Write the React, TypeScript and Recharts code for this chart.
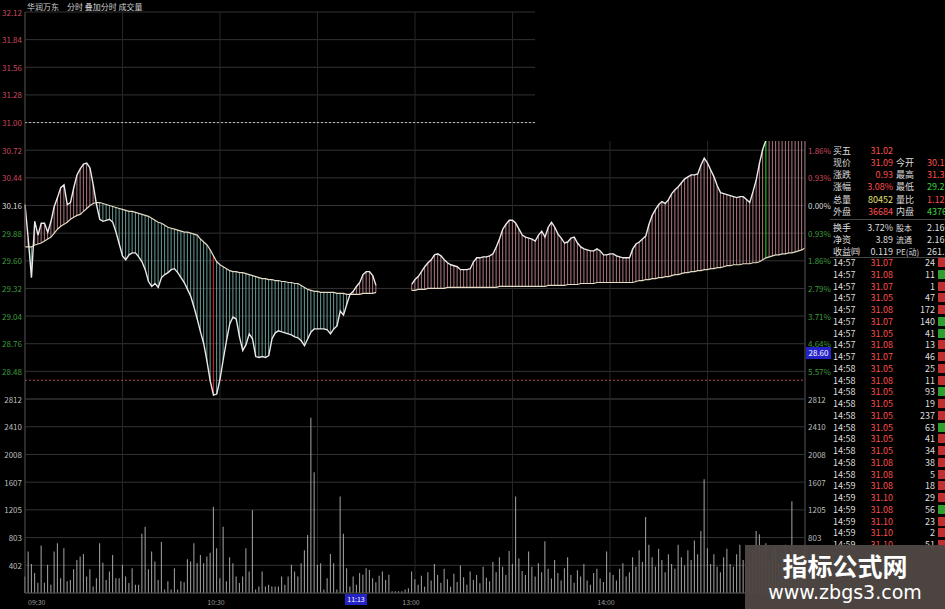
import React from 'react';
import { ComposedChart, Line, Bar, XAxis, YAxis, CartesianGrid, ReferenceLine, Cell } from 'recharts';

// 昨收
const BASE = 30.16;

// 分时价格，每分钟一个点（09:30 起，共 241 个）
const price: (number | null)[] = [
  30.17, 29.82, 29.43, 30.0, 29.86, 29.98, 29.98, 29.89, 30.0, 30.15,
  30.24, 30.34, 30.37, 30.17, 30.19, 30.34, 30.47, 30.53, 30.58, 30.59,
  30.54, 30.37, 30.17, 30.02, 30.0, 30.01, 30.02, 29.99, 29.89, 29.77,
  29.65, 29.61, 29.66, 29.68, 29.68, 29.64, 29.59, 29.51, 29.39, 29.34,
  29.37, 29.33, 29.43, 29.46, 29.48, 29.51, 29.52, 29.48, 29.43, 29.38,
  29.31, 29.24, 29.13, 29.01, 28.88, 28.76, 28.58, 28.38, 28.24, 28.25,
  28.4, 28.6, 28.79, 28.96, 29.03, 29.01, 28.83, 28.69, 28.75, 28.86,
  28.81, 28.63, 28.62, 28.63, 28.62, 28.64, 28.81, 28.87, 28.89, 28.88,
  28.87, 28.86, 28.85, 28.83, 28.82, 28.79, 28.74, 28.81, 28.88, 28.91,
  28.91, 28.91, 28.91, 28.9, 28.86, 28.91, 28.94, 29.09, 29.05, 29.16,
  29.26, 29.29, 29.34, 29.38, 29.46, 29.49, 29.49, 29.45, 29.35, null,
  null, null, null, null, null, null, null, null, null, 29.36,
  29.41, 29.44, 29.49, 29.54, 29.58, 29.61, 29.66, 29.67, 29.65, 29.61,
  29.58, 29.56, 29.55, 29.54, 29.51, 29.51, 29.51, 29.52, 29.59, 29.63,
  29.63, 29.64, 29.64, 29.65, 29.67, 29.74, 29.82, 29.92, 29.97, 30.01,
  30.01, 29.98, 29.92, 29.86, 29.84, 29.83, 29.82, 29.8, 29.86, 29.9,
  29.84, 29.94, 29.99, 29.94, 29.87, 29.83, 29.78, 29.79, 29.83, 29.84,
  29.78, 29.74, 29.72, 29.71, 29.7, 29.7, 29.72, 29.7, 29.66, 29.66,
  29.67, 29.67, 29.65, 29.64, 29.63, 29.63, 29.63, 29.72, 29.77, 29.79,
  29.82, 29.85, 29.97, 30.06, 30.12, 30.17, 30.2, 30.18, 30.22, 30.28,
  30.32, 30.35, 30.39, 30.43, 30.45, 30.47, 30.47, 30.48, 30.57, 30.64,
  30.59, 30.52, 30.45, 30.36, 30.29, 30.28, 30.27, 30.26, 30.25, 30.24,
  30.25, 30.25, 30.22, 30.19, 30.3, 30.42, 30.59, 30.73, 30.82, 30.93,
  30.98, 31.01, 31.03, 31.05, 31.05, 31.07, 31.06, 31.08, 31.08, 31.09,
  31.09,
];

// 均价线
const avgPrice: (number | null)[] = [
  29.74, 29.74, 29.74, 29.76, 29.77, 29.78, 29.8, 29.82, 29.84, 29.88,
  29.92, 29.95, 29.97, 29.99, 30.02, 30.04, 30.06, 30.07, 30.1, 30.13,
  30.16, 30.18, 30.19, 30.19, 30.18, 30.17, 30.16, 30.15, 30.14, 30.13,
  30.12, 30.11, 30.1, 30.1, 30.09, 30.08, 30.07, 30.06, 30.05, 30.03,
  30.01, 29.99, 29.98, 29.96, 29.94, 29.93, 29.92, 29.91, 29.9, 29.89,
  29.89, 29.88, 29.87, 29.86, 29.82, 29.79, 29.76, 29.71, 29.65, 29.59,
  29.56, 29.54, 29.52, 29.5, 29.49, 29.49, 29.48, 29.48, 29.47, 29.46,
  29.45, 29.44, 29.43, 29.42, 29.42, 29.41, 29.41, 29.4, 29.4, 29.39,
  29.39, 29.38, 29.38, 29.37, 29.37, 29.35, 29.33, 29.31, 29.3, 29.29,
  29.29, 29.28, 29.28, 29.28, 29.28, 29.28, 29.27, 29.27, 29.27, 29.26,
  29.26, 29.26, 29.26, 29.26, 29.27, 29.27, 29.27, 29.27, 29.28, null,
  null, null, null, null, null, null, null, null, null, 29.3,
  29.3, 29.31, 29.31, 29.31, 29.32, 29.32, 29.32, 29.32, 29.32, 29.32,
  29.33, 29.33, 29.33, 29.33, 29.33, 29.33, 29.33, 29.33, 29.33, 29.33,
  29.33, 29.33, 29.33, 29.33, 29.33, 29.33, 29.34, 29.34, 29.34, 29.34,
  29.34, 29.34, 29.34, 29.34, 29.34, 29.34, 29.34, 29.34, 29.34, 29.34,
  29.34, 29.35, 29.35, 29.35, 29.35, 29.35, 29.35, 29.36, 29.36, 29.36,
  29.36, 29.37, 29.37, 29.37, 29.37, 29.37, 29.38, 29.38, 29.38, 29.38,
  29.38, 29.38, 29.38, 29.38, 29.38, 29.38, 29.38, 29.38, 29.39, 29.4,
  29.4, 29.41, 29.41, 29.42, 29.42, 29.43, 29.43, 29.44, 29.44, 29.45,
  29.46, 29.46, 29.47, 29.48, 29.48, 29.49, 29.49, 29.5, 29.5, 29.51,
  29.51, 29.52, 29.52, 29.53, 29.53, 29.54, 29.55, 29.55, 29.56, 29.56,
  29.56, 29.57, 29.57, 29.57, 29.58, 29.58, 29.59, 29.61, 29.63, 29.64,
  29.65, 29.66, 29.66, 29.67, 29.67, 29.68, 29.68, 29.69, 29.7, 29.71,
  29.73,
];

// 成交量（手）
const volume: number[] = [
  240, 600, 420, 290, 150, 690, 150, 410, 120, 600,
  720, 215, 650, 170, 190, 345, 480, 530, 565, 240,
  345, 95, 215, 720, 440, 190, 310, 550, 215, 215,
  410, 240, 145, 360, 120, 120, 860, 960, 345, 600,
  455, 190, 740, 50, 170, 50, 360, 50, 170, 155,
  490, 455, 720, 430, 550, 430, 530, 585, 1250, 650,
  215, 960, 170, 520, 430, 240, 145, 240, 650, 310,
  1200, 50, 95, 310, 95, 120, 95, 95, 95, 240,
  120, 240, 410, 310, 240, 430, 620, 840, 2540, 1750,
  410, 430, 50, 215, 565, 430, 50, 1400, 860, 360,
  95, 240, 120, 290, 265, 360, 335, 215, 155, 250,
  310, 190, 265, 25, 25, 25, 25, 50, 70, 310,
  200, 120, 250, 90, 300, 180, 420, 260, 150, 350,
  200, 90, 280, 160, 400, 230, 120, 310, 190, 260,
  140, 380, 220, 170, 450, 300, 520, 380, 260, 610,
  420, 1400, 500, 320, 260, 600, 380, 240, 430, 300,
  750, 350, 210, 480, 290, 180, 360, 520, 260, 150,
  330, 240, 420, 180, 120, 290, 350, 210, 160, 600,
  300, 260, 180, 350, 430, 240, 300, 520, 380, 620,
  450, 1100, 700, 520, 380, 640, 480, 300, 560, 420,
  350, 700, 520, 400, 620, 480, 760, 560, 900, 1650,
  650, 420, 560, 380, 300, 520, 640, 420, 380, 560,
  700, 480, 380, 520, 620, 900, 850, 600, 720, 480,
  560, 640, 420, 520, 700, 560, 1330, 620, 480, 560,
  700,
];

// 特别标出的两根（红/绿）
const redMarks = [58];
const greenMarks = [228];

const priceTicks = [32.12, 31.84, 31.56, 31.28, 31.0, 30.72, 30.44, 30.16, 29.88, 29.6, 29.32, 29.04, 28.76, 28.48];
const volumeTicks = [0, 402, 803, 1205, 1607, 2008, 2410, 2812];
const gridMinutes = [0, 30, 60, 90, 120, 150, 180, 210, 240];
const timeLabels: Record<number, string> = { 0: '09:30', 60: '10:30', 120: '13:00', 180: '14:00' };

const quoteTop = [
  ['买五', '31.02', '#ff4d4d', '', '', ''],
  ['现价', '31.09', '#ff4d4d', '今开', '30.15', '#ff4d4d'],
  ['涨跌', '0.93', '#ff4d4d', '最高', '31.30', '#ff4d4d'],
  ['涨幅', '3.08%', '#ff4d4d', '最低', '29.25', '#3fd03f'],
  ['总量', '80452', '#e6e070', '量比', '1.12', '#ff4d4d'],
  ['外盘', '36684', '#ff4d4d', '内盘', '43768', '#3fd03f'],
];
const quoteMid = [
  ['换手', '3.72%', '#dddddd', '股本', '2.16亿', '#dddddd'],
  ['净资', '3.89', '#dddddd', '流通', '2.16亿', '#dddddd'],
  ['收益㈣', '0.119', '#dddddd', 'PE(动)', '261.5', '#dddddd'],
];

const tradeTimes = ['14:57', '14:57', '14:57', '14:57', '14:57', '14:57', '14:57', '14:57', '14:57', '14:58', '14:58', '14:58', '14:58', '14:58', '14:58', '14:58', '14:58', '14:58', '14:58', '14:59', '14:59', '14:59', '14:59', '14:59', '14:59'];
const tradePrices = ['31.07', '31.08', '31.07', '31.05', '31.08', '31.07', '31.05', '31.08', '31.07', '31.05', '31.08', '31.05', '31.05', '31.05', '31.05', '31.05', '31.05', '31.08', '31.08', '31.08', '31.10', '31.08', '31.10', '31.10', '31.10'];
const tradeVols = [24, 11, 1, 47, 172, 140, 41, 13, 46, 25, 11, 93, 19, 237, 63, 41, 34, 38, 5, 18, 29, 56, 23, 2, 51];
const tradeSides = ['B', 'S', 'B', 'B', 'B', 'S', 'S', 'B', 'B', 'B', 'B', 'S', 'B', 'B', 'S', 'B', 'B', 'B', 'B', 'B', 'B', 'S', 'B', 'B', 'B'];

const rows = price.map((p, i) => {
  const a = avgPrice[i];
  return {
    m: i,
    price: p,
    avg: a,
    band: p == null || a == null ? null : [Math.min(p, a), Math.max(p, a)],
    up: p != null && a != null && p >= a,
    vol: volume[i],
  };
});

const FONT = '"Noto Sans CJK SC", "DejaVu Sans", sans-serif';
const UP = '#c8485e';
const DOWN = '#3d9c3d';

const colorOf = (v: number) => (v > BASE + 0.001 ? UP : v < BASE - 0.001 ? DOWN : '#d8d8d8');

const PriceTick = (props: any) => {
  const { x, y, payload } = props;
  const v = payload.value as number;
  return (
    <text x={x} y={y} textAnchor="end" dominantBaseline="central" fill={colorOf(v)} fontSize={8} fontFamily={FONT}>
      {v.toFixed(2)}
    </text>
  );
};

const PctTick = (props: any) => {
  const { x, y, payload } = props;
  const v = payload.value as number;
  const pct = (Math.abs(v - BASE) / BASE) * 100;
  return (
    <text x={x} y={y} textAnchor="start" dominantBaseline="central" fill={colorOf(v)} fontSize={8} fontFamily={FONT}>
      {pct.toFixed(2) + '%'}
    </text>
  );
};

const VolTick = (props: any) => {
  const { x, y, payload, anchor } = props;
  if (payload.value === 0) return null;
  return (
    <text x={x} y={y} textAnchor={anchor} dominantBaseline="central" fill="#bdbdbd" fontSize={8} fontFamily={FONT}>
      {payload.value}
    </text>
  );
};

const TimeTick = (props: any) => {
  const { x, y, payload } = props;
  const label = timeLabels[payload.value];
  if (!label) return null;
  return (
    <text x={payload.value === 0 ? x + 3 : x - 4} y={y + 4} textAnchor={payload.value === 0 ? 'start' : 'middle'} fill="#9a9a9a" fontSize={7} fontFamily={FONT}>
      {label}
    </text>
  );
};

const cell = (text: string, color: string, style: React.CSSProperties) => (
  <span style={{ position: 'absolute', top: 0, color, whiteSpace: 'nowrap', ...style }}>{text}</span>
);

export default function App() {
  return (
    <div style={{ position: 'absolute', left: 0, top: 0, width: 945, height: 609, background: '#000', overflow: 'hidden', fontFamily: FONT }}>
      {/* 分时图 */}
      <div style={{ position: 'absolute', left: 0, top: 0 }}>
        <ComposedChart width={945} height={400} data={rows} margin={{ top: 12, right: 0, bottom: 1, left: 0 }}>
          <CartesianGrid horizontal vertical={false} stroke="#333333" />
          <CartesianGrid horizontal={false} vertical stroke="#262626" />
          <XAxis type="number" dataKey="m" domain={[0, 240]} ticks={gridMinutes} hide />
          <YAxis domain={[28.2, 32.12]} ticks={priceTicks} interval={0} width={25} tickSize={0} tickMargin={3} tick={PriceTick} axisLine={{ stroke: '#444' }} tickLine={false} />
          <YAxis yAxisId="r" orientation="right" domain={[28.2, 32.12]} ticks={priceTicks} interval={0} width={140} tickSize={0} tickMargin={3} tick={PctTick} axisLine={{ stroke: '#444' }} tickLine={false} />
          <ReferenceLine y={31.0} stroke="#bbbbbb" strokeDasharray="2 2" />
          <ReferenceLine y={28.39} stroke="#b04a5a" strokeDasharray="2 2" />
          <Bar dataKey="band" barSize={1} isAnimationActive={false}>
            {rows.map((r) => (
              <Cell
                key={r.m}
                fill={redMarks.includes(r.m) ? '#e02828' : greenMarks.includes(r.m) ? '#22dd22' : r.up ? '#b07782' : '#6b9b96'}
              />
            ))}
          </Bar>
          <Line dataKey="avg" type="linear" stroke="#e4dcc4" strokeWidth={1.2} dot={false} isAnimationActive={false} />
          <Line dataKey="price" type="linear" stroke="#eaeaea" strokeWidth={1.4} dot={false} isAnimationActive={false} />
          <Line yAxisId="r" dataKey="price" stroke="none" dot={false} activeDot={false} isAnimationActive={false} />
        </ComposedChart>
      </div>

      {/* 成交量 */}
      <div style={{ position: 'absolute', left: 0, top: 389 }}>
        <ComposedChart width={945} height={220} data={rows} margin={{ top: 10, right: 0, bottom: 0, left: 0 }}>
          <CartesianGrid horizontal vertical={false} stroke="#333333" />
          <CartesianGrid horizontal={false} vertical stroke="#262626" />
          <XAxis type="number" dataKey="m" domain={[0, 240]} ticks={gridMinutes} interval={0} height={16} tick={TimeTick} tickLine={false} axisLine={{ stroke: '#444' }} />
          <YAxis domain={[0, 2812]} ticks={volumeTicks} interval={0} width={25} tickSize={0} tickMargin={3} tick={<VolTick anchor="end" />} axisLine={{ stroke: '#444' }} tickLine={false} />
          <YAxis yAxisId="r" orientation="right" domain={[0, 2812]} ticks={volumeTicks} interval={0} width={140} tickSize={0} tickMargin={3} tick={<VolTick anchor="start" />} axisLine={{ stroke: '#444' }} tickLine={false} />
          <Bar dataKey="vol" fill="#a6a6a6" barSize={1} isAnimationActive={false} />
          <Line yAxisId="r" dataKey="vol" stroke="none" dot={false} activeDot={false} isAnimationActive={false} />
        </ComposedChart>
      </div>

      {/* 标题 */}
      <div style={{ position: 'absolute', left: 27, top: 1, fontSize: 8, color: '#d0d0d0', whiteSpace: 'nowrap' }}>
        <span style={{ marginRight: 8 }}>华润万东</span>
        <span>分时 叠加分时 成交量</span>
      </div>

      {/* 右上角空白区 */}
      <div style={{ position: 'absolute', left: 535, top: 0, width: 410, height: 141, background: '#000' }} />

      {/* 报价面板 */}
      <div style={{ position: 'absolute', left: 830, top: 141, width: 115, height: 468, fontSize: 9, lineHeight: '11px', overflow: 'hidden' }}>
        {quoteTop.map((r, i) => (
          <div key={'q' + i} style={{ position: 'absolute', left: 0, top: 3.5 + i * 12.3, width: 140, height: 11 }}>
            {cell(r[0], '#dddddd', { left: 3 })}
            {cell(r[1], r[2], { right: 77, textAlign: 'right' })}
            {cell(r[3], '#dddddd', { left: 66 })}
            {cell(r[4], r[5], { left: 97 })}
          </div>
        ))}
        <div style={{ position: 'absolute', left: 0, top: 78, width: 115, height: 1, background: '#444' }} />
        {quoteMid.map((r, i) => (
          <div key={'m' + i} style={{ position: 'absolute', left: 0, top: 80.5 + i * 12.3, width: 140, height: 11 }}>
            {cell(r[0], '#dddddd', { left: 3 })}
            {cell(r[1], r[2], { right: 77, textAlign: 'right' })}
            {cell(r[3], '#dddddd', { left: 66, fontSize: 8 })}
            {cell(r[4], r[5], { left: 97 })}
          </div>
        ))}
        <div style={{ position: 'absolute', left: 0, top: 116, width: 115, height: 1, background: '#444' }} />
        {tradeTimes.map((t, i) => (
          <div key={'t' + i} style={{ position: 'absolute', left: 0, top: 116 + i * 11.75, width: 115, height: 11 }}>
            {cell(t, '#dddddd', { left: 3 })}
            {cell(tradePrices[i], '#ff4d4d', { right: 52, textAlign: 'right' })}
            {cell(String(tradeVols[i]), '#dddddd', { right: 10, textAlign: 'right' })}
            <span style={{ position: 'absolute', left: 108, top: 1, width: 8, height: 9, background: tradeSides[i] === 'B' ? '#c03030' : '#2f9f2f' }} />
          </div>
        ))}
      </div>

      {/* 十字光标标签 */}
      <div style={{ position: 'absolute', left: 806, top: 347, width: 25, height: 12, background: '#2323c8', color: '#fff', fontSize: 8, lineHeight: '12px', textAlign: 'center' }}>28.60</div>
      <div style={{ position: 'absolute', left: 345, top: 594, width: 22, height: 11, background: '#2323c8', color: '#fff', fontSize: 7, lineHeight: '11px', textAlign: 'center' }}>11:13</div>

      {/* 水印 */}
      <div style={{ position: 'absolute', left: 745, top: 545, width: 200, height: 64, background: 'rgba(78,71,67,0.96)', color: '#fff', textAlign: 'center' }}>
        <div style={{ fontSize: 25, fontWeight: 700, lineHeight: '30px', marginTop: 5 }}>指标公式网</div>
        <div style={{ fontSize: 19, lineHeight: '24px', fontFamily: '"DejaVu Sans", sans-serif' }}>www.zbgs3.com</div>
      </div>
    </div>
  );
}
